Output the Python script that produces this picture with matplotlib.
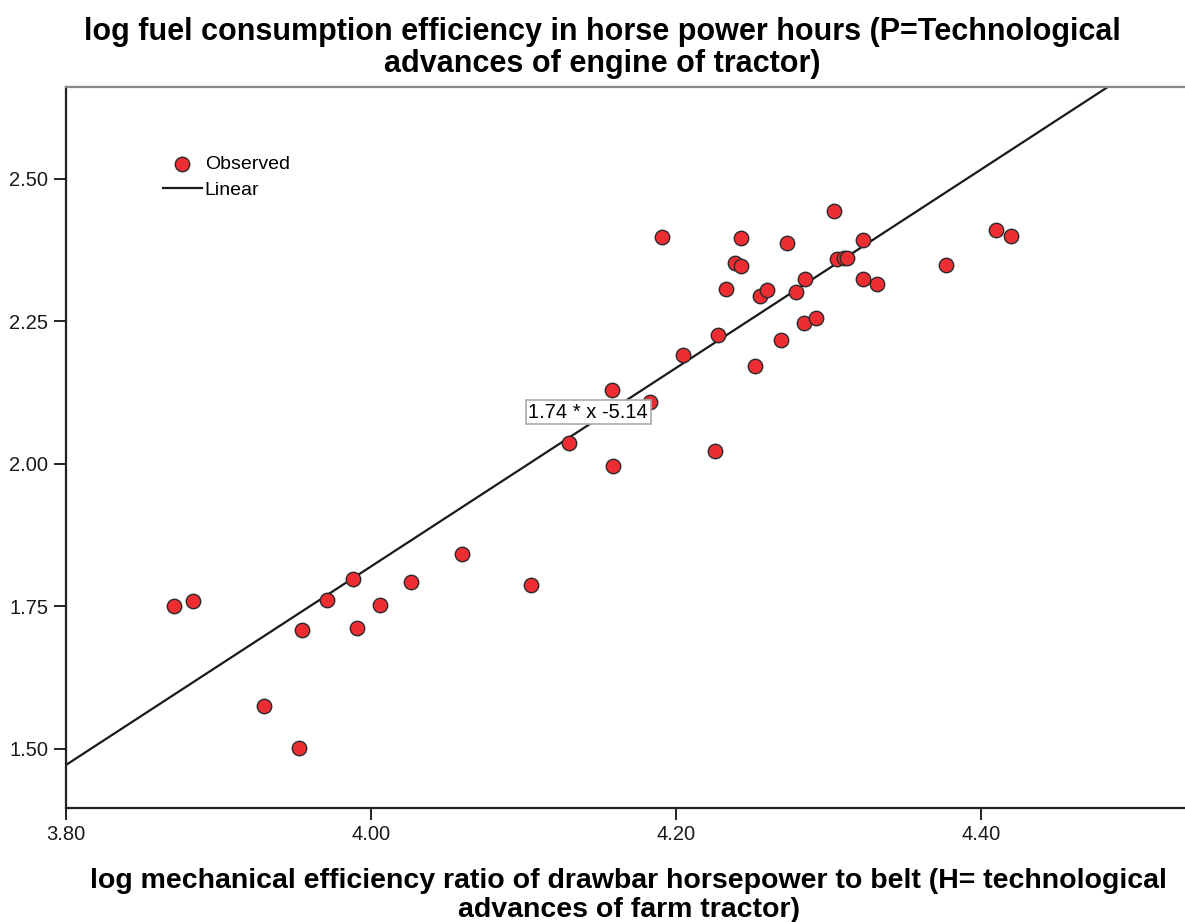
import numpy as np
import matplotlib
matplotlib.use("Agg")
import matplotlib.pyplot as plt

plt.rcParams["font.family"] = ["Liberation Sans", "DejaVu Sans"]

# log mechanical efficiency (x) vs log fuel consumption efficiency (y)
log_h = [3.871, 3.883, 3.930, 3.953, 3.955, 3.971, 3.988, 3.991, 4.006, 4.026,
         4.060, 4.105, 4.130, 4.158, 4.159, 4.183, 4.191, 4.205, 4.226, 4.228,
         4.233, 4.239, 4.243, 4.243, 4.252, 4.255, 4.260, 4.269, 4.273, 4.279,
         4.284, 4.285, 4.292, 4.304, 4.306, 4.310, 4.312, 4.323, 4.323, 4.332,
         4.377, 4.410, 4.420]
log_p = [1.751, 1.760, 1.575, 1.502, 1.709, 1.761, 1.798, 1.712, 1.753, 1.793,
         1.842, 1.788, 2.037, 2.130, 1.996, 2.109, 2.398, 2.191, 2.023, 2.226,
         2.307, 2.353, 2.347, 2.396, 2.172, 2.295, 2.305, 2.218, 2.388, 2.302,
         2.247, 2.325, 2.256, 2.444, 2.360, 2.361, 2.361, 2.393, 2.325, 2.316,
         2.349, 2.411, 2.400]

slope = 1.74
intercept = -5.14

x_ticks = [3.80, 4.00, 4.20, 4.40]
y_ticks = [1.50, 1.75, 2.00, 2.25, 2.50]
xlim = (3.80, 4.534)
ylim = (1.3965, 2.661)

W, H = 1185, 922
fig = plt.figure(figsize=(W / 100, H / 100), dpi=100)
ax = fig.add_axes([66 / W, 1 - 808 / H, 1 - 66 / W, (808 - 87) / H])

xs = np.array(xlim)
ax.plot(xs, slope * xs + intercept, color="#1a1a1a", linewidth=1.6, label="Linear", zorder=2)
ax.scatter(log_h, log_p, s=108, facecolor="#ec2d34", edgecolor="#2a2a2a",
           linewidth=1.0, label="Observed", zorder=3)

ax.set_xlim(*xlim)
ax.set_ylim(*ylim)
ax.set_xticks(x_ticks)
ax.set_xticklabels([f"{t:.2f}" for t in x_ticks])
ax.set_yticks(y_ticks)
ax.set_yticklabels([f"{t:.2f}" for t in y_ticks])
ax.tick_params(direction="out", length=8.6, width=1.4, labelsize=14.5,
               colors="#222222", labelcolor="#1a1a1a")
ax.tick_params(axis="x", pad=3.6)
ax.tick_params(axis="y", pad=4.2)

for side in ["left", "bottom"]:
    ax.spines[side].set_linewidth(1.6)
    ax.spines[side].set_color("#222222")
ax.spines["top"].set_color("#888888")
ax.spines["top"].set_linewidth(1.6)
ax.spines["right"].set_visible(False)

# equation label on the fit line
ax.text(4.1426, 2.0904, "1.74 * x -5.14", fontsize=14.5, ha="center", va="center",
        bbox=dict(boxstyle="square,pad=0.12", facecolor="white", edgecolor="#aaaaaa", linewidth=1.2),
        zorder=4)

# legend
handles, labels = ax.get_legend_handles_labels()
order = [1, 0]
ax.legend([handles[i] for i in order], [labels[i] for i in order],
          loc="upper left", bbox_to_anchor=((163 - 66) / (W - 66), (808 - 155) / (808 - 87)),
          frameon=False, fontsize=14, handlelength=2.0, handletextpad=0.15,
          labelspacing=0.45, borderpad=0, borderaxespad=0)

fig.text(0.508, 1 - 40 / H, "log fuel consumption efficiency in horse power hours (P=Technological",
         ha="center", va="baseline", fontsize=22, fontweight="bold")
fig.text(0.508, 1 - 72 / H, "advances of engine of tractor)",
         ha="center", va="baseline", fontsize=22, fontweight="bold")

fig.text(0.5304, 1 - 888 / H, "log mechanical efficiency ratio of drawbar horsepower to belt (H= technological",
         ha="center", va="baseline", fontsize=20.5, fontweight="bold")
fig.text(0.5304, 1 - 917 / H, "advances of farm tractor)",
         ha="center", va="baseline", fontsize=20.5, fontweight="bold")

fig.savefig("out.png", dpi=100, facecolor="white")
